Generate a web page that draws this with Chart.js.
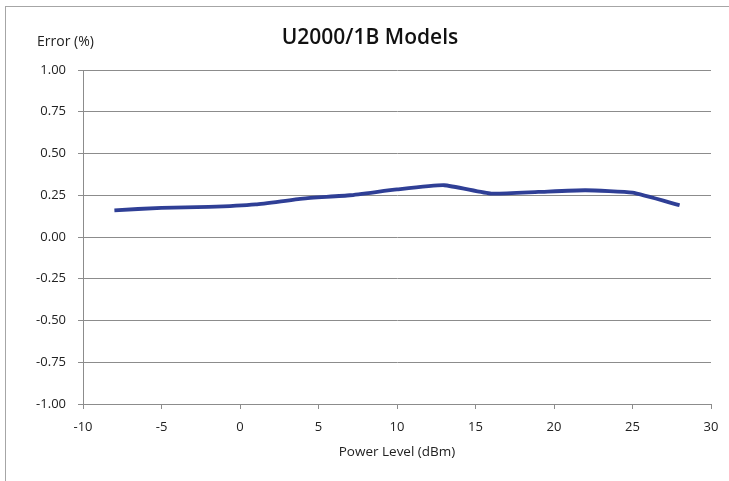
<!DOCTYPE html>
<html>
<head>
<meta charset="utf-8">
<script src="https://cdn.jsdelivr.net/npm/chart.js@4/dist/chart.umd.min.js"></script>
<style>
  body { margin: 0; background: #fff; }
  #wrap { position: relative; width: 729px; height: 481px; }
  #frame { position: absolute; left: 5px; top: 6px; right: 0; bottom: 0;
           border-top: 1px solid #a6a6a6; border-left: 1px solid #a6a6a6; }
  #chart { position: absolute; left: 0; top: 0; }
</style>
</head>
<body>
<div id="wrap">
  <div id="frame"></div>
  <canvas id="chart" width="729" height="481"></canvas>
</div>
<script>
const chartTitle = "U2000/1B Models";
const yTitle = "Error (%)";
const xTitle = "Power Level (dBm)";

const powerLevels = [-8, -5, -2, 1, 4, 7, 10, 13, 16, 19, 22, 25, 28];
const errorValues = [0.16, 0.175, 0.18, 0.195, 0.23, 0.25, 0.285, 0.31, 0.26, 0.27, 0.28, 0.265, 0.19];

const xTicks = [-10, -5, 0, 5, 10, 15, 20, 25, 30];
const yTicks = [-1, -0.75, -0.5, -0.25, 0, 0.25, 0.5, 0.75, 1];

const gridGray = "#8c8c8c";
const fontFamily = "'Open Sans', 'Liberation Sans', sans-serif";

// chart title and y axis title are placed like Excel does it:
// title centred on the whole chart, axis title horizontal above the axis
const titlesPlugin = {
    id: "titles",
    afterDraw(chart) {
        const ctx = chart.ctx;
        ctx.save();
        ctx.textBaseline = "middle";

        ctx.font = "600 21px " + fontFamily;
        ctx.fillStyle = "#111";
        ctx.textAlign = "center";
        ctx.fillText(chartTitle, 370, 38);

        ctx.font = "14px " + fontFamily;
        ctx.fillStyle = "#222";
        ctx.textAlign = "left";
        ctx.fillText(yTitle, 37, 42);
        ctx.restore();
    }
};

const points = powerLevels.map((p, i) => ({ x: p, y: errorValues[i] }));

new Chart(document.getElementById("chart"), {
    type: "line",
    data: {
        datasets: [{
            data: points,
            borderColor: "#2f3f96",
            borderWidth: 3.8,
            pointRadius: 0,
            tension: 0.15,
            fill: false
        }]
    },
    options: {
        responsive: false,
        animation: false,
        layout: { padding: { left: 0, right: 18, top: 70, bottom: 0 } },
        plugins: {
            legend: { display: false },
            tooltip: { enabled: false },
            title: { display: false }
        },
        scales: {
            x: {
                type: "linear",
                min: -10,
                max: 30,
                afterFit(scale) { scale.height = 77; },
                afterBuildTicks(scale) { scale.ticks = xTicks.map(v => ({ value: v })); },
                ticks: {
                    color: "#222",
                    font: { family: fontFamily, size: 13 },
                    padding: 10,
                    maxRotation: 0
                },
                grid: {
                    drawOnChartArea: false,
                    drawTicks: true,
                    tickLength: 5,
                    color: gridGray
                },
                border: { display: true, color: gridGray },
                title: {
                    display: true,
                    text: xTitle,
                    color: "#222",
                    font: { family: fontFamily, size: 13.5 },
                    padding: { top: 0, bottom: 21 }
                }
            },
            y: {
                min: -1,
                max: 1,
                afterFit(scale) { scale.width = 83; },
                afterBuildTicks(scale) { scale.ticks = yTicks.map(v => ({ value: v })); },
                ticks: {
                    color: "#222",
                    font: { family: fontFamily, size: 13 },
                    padding: 12,
                    callback: v => v.toFixed(2)
                },
                grid: {
                    color: gridGray,
                    tickLength: 5
                },
                border: { display: true, color: gridGray }
            }
        }
    },
    plugins: [titlesPlugin]
});
</script>
</body>
</html>
